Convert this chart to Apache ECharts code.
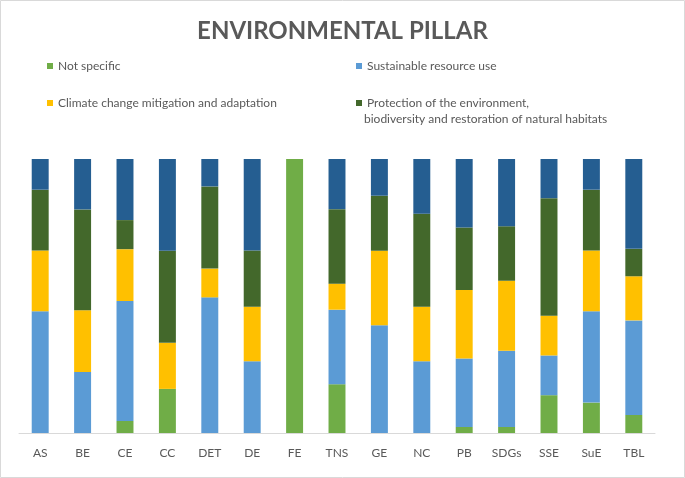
<!DOCTYPE html>
<html>
<head>
<meta charset="utf-8">
<script src="https://cdn.jsdelivr.net/npm/echarts@6/dist/echarts.min.js"></script>
<style>
html, body { margin: 0; padding: 0; background: #fff; }
#chart { width: 685px; height: 478px; }
</style>
</head>
<body>
<div id="chart"></div>
<script>
var categories = ['AS', 'BE', 'CE', 'CC', 'DET', 'DE', 'FE', 'TNS', 'GE', 'NC', 'PB', 'SDGs', 'SSE', 'SuE', 'TBL'];
var notSpecific = [0, 0, 4.4, 16.1, 0, 0, 100, 17.8, 0, 0, 2.2, 2.2, 13.8, 11.1, 6.6];
var resourceUse = [44.4, 22.3, 43.8, 0, 49.5, 26.2, 0, 27.2, 39.3, 26.2, 25.0, 27.8, 14.5, 33.3, 34.5];
var climate = [22.2, 22.5, 18.9, 16.8, 10.5, 19.9, 0, 9.5, 27.2, 19.9, 25.0, 25.6, 14.5, 22.2, 16.1];
var protection = [22.2, 36.8, 10.6, 33.6, 30.0, 20.5, 0, 27.2, 20.1, 33.9, 22.8, 19.9, 42.9, 22.2, 10.0];
var other = [11.2, 18.4, 22.3, 33.5, 10.0, 33.4, 0, 18.3, 13.4, 20.0, 25.0, 24.5, 14.3, 11.2, 32.8];

var font = 'Lato';
var txt = '#595959';

function legendAt(name, left, top, fmt) {
    return {
        data: [name],
        left: left,
        top: top,
        itemWidth: 6,
        itemHeight: 6,
        itemGap: 0,
        icon: 'rect',
        selectedMode: false,
        padding: 0,
        textStyle: { color: txt, fontSize: 12, fontFamily: font },
        formatter: fmt || '{name}'
    };
}

function bar(name, data, color) {
    return {
        name: name,
        type: 'bar',
        stack: 'total',
        barWidth: '40%',
        itemStyle: { color: color },
        data: data
    };
}

var myChart = echarts.init(document.getElementById('chart'));
var option = {
    animation: false,
    title: {
        text: 'ENVIRONMENTAL PILLAR',
        left: 'center',
        top: 14,
        textStyle: { color: txt, fontSize: 24, fontWeight: 'bold', fontFamily: font }
    },
    legend: [
        legendAt('Not specific', 47, 60),
        legendAt('Sustainable resource use', 356, 60),
        legendAt('Climate change mitigation and adaptation', 47, 97),
        legendAt('Protection of the environment, biodiversity and restoration of natural habitats', 356, 97,
            function () { return 'Protection of the environment,'; })
    ],
    graphic: [
        {
            type: 'rect',
            shape: { x: 0.5, y: 0.5, width: 684, height: 477 },
            style: { fill: 'none', stroke: '#d9d9d9', lineWidth: 1 },
            silent: true
        },
        {
            type: 'text',
            left: 364,
            top: 113,
            style: { text: 'biodiversity and restoration of natural habitats', fill: txt, fontSize: 12, fontFamily: font }
        }
    ],
    grid: { left: 19, right: 30, top: 159, bottom: 45 },
    xAxis: {
        type: 'category',
        data: categories,
        axisTick: { show: false },
        axisLine: { lineStyle: { color: '#d9d9d9' } },
        axisLabel: { color: txt, fontSize: 12, fontFamily: font, margin: 14 }
    },
    yAxis: {
        type: 'value',
        min: 0,
        max: 100,
        show: false
    },
    series: [
        bar('Not specific', notSpecific, '#70AD47'),
        bar('Sustainable resource use', resourceUse, '#5B9BD5'),
        bar('Climate change mitigation and adaptation', climate, '#FFC000'),
        bar('Protection of the environment, biodiversity and restoration of natural habitats', protection, '#43682B'),
        bar('Other', other, '#255E91')
    ]
};
myChart.setOption(option);
</script>
</body>
</html>
